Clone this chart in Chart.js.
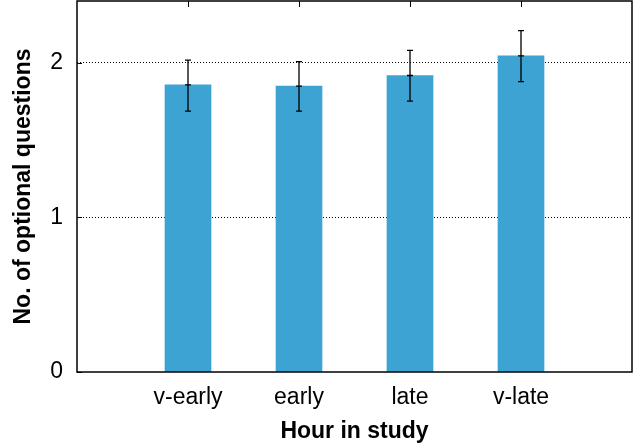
<!DOCTYPE html>
<html>
<head>
<meta charset="utf-8">
<script src="https://cdn.jsdelivr.net/npm/chart.js@4/dist/chart.umd.min.js"></script>
<style>
  html, body { margin: 0; padding: 0; background: #fff; }
  #wrap { width: 637px; height: 445px; }
</style>
</head>
<body>
<div id="wrap"><canvas id="myChart" width="637" height="445"></canvas></div>
<script>
// categories, with empty slots at both ends like the original axis range
var categories = ["", "v-early", "early", "late", "v-late", ""];
var means = [null, 1.857, 1.849, 1.918, 2.045, null];
var errLow = [null, 1.687, 1.687, 1.752, 1.879, null];
var errHigh = [null, 2.017, 2.008, 2.080, 2.209, null];
var yTicks = [0, 1, 2];

var font = "'Liberation Sans', Arial, Helvetica, sans-serif";

// border box, mirrored ticks and error bars
var extrasPlugin = {
    id: 'extras',
    afterDatasetsDraw: function (chart) {
        var ctx = chart.ctx;
        var a = chart.chartArea;
        var x = chart.scales.x, y = chart.scales.y;
        ctx.save();
        ctx.strokeStyle = '#000';
        ctx.lineWidth = 1;
        // top ticks at category positions
        for (var i = 0; i < categories.length; i++) {
            if (!categories[i]) continue;
            var px = Math.round(x.getPixelForValue(i)) + 0.5;
            ctx.beginPath();
            ctx.moveTo(px, a.top);
            ctx.lineTo(px, a.top + 6);
            ctx.stroke();
        }
        // left ticks at y values
        yTicks.forEach(function (v) {
            var py = Math.round(y.getPixelForValue(v)) + 0.5;
            ctx.beginPath();
            ctx.moveTo(a.left, py);
            ctx.lineTo(a.left + 5, py);
            ctx.stroke();
        });
        // error bars
        ctx.lineWidth = 1.3;
        for (var j = 0; j < means.length; j++) {
            if (means[j] === null) continue;
            var cx = x.getPixelForValue(j);
            var yl = y.getPixelForValue(errLow[j]);
            var yh = y.getPixelForValue(errHigh[j]);
            var ym = y.getPixelForValue(means[j]);
            ctx.beginPath();
            ctx.moveTo(cx, yl); ctx.lineTo(cx, yh);
            ctx.moveTo(cx - 3, yl); ctx.lineTo(cx + 3, yl);
            ctx.moveTo(cx - 3, yh); ctx.lineTo(cx + 3, yh);
            ctx.moveTo(cx - 3, ym); ctx.lineTo(cx + 3, ym);
            ctx.stroke();
        }
        // frame
        ctx.lineWidth = 1.5;
        ctx.strokeRect(a.left, a.top, a.right - a.left, a.bottom - a.top);
        ctx.restore();
    }
};

var config = {
    type: 'bar',
    data: {
        labels: categories,
        datasets: [{
            data: means,
            backgroundColor: '#3ca3d3',
            borderWidth: 0,
            barThickness: 46
        }]
    },
    options: {
        responsive: false,
        animation: false,
        layout: { padding: { top: 1, right: 5, left: 0, bottom: 0 } },
        plugins: { legend: { display: false }, tooltip: { enabled: false } },
        scales: {
            x: {
                offset: false,
                grid: { display: false, drawTicks: false },
                border: { display: false },
                ticks: { color: '#000', font: { family: font, size: 23 }, padding: 12, maxRotation: 0, autoSkip: false },
                title: { display: true, text: 'Hour in study', color: '#000',
                         font: { family: font, size: 23, weight: 'bold' }, padding: { top: 0, bottom: 0 } },
                afterFit: function (s) { s.height = 73; s.paddingLeft = 0; s.paddingRight = 0; }
            },
            y: {
                min: 0,
                max: 2.4,
                afterBuildTicks: function (s) { s.ticks = yTicks.map(function (v) { return { value: v }; }); },
                grid: {
                    drawTicks: false,
                    color: function (c) { return c.tick && c.tick.value === 0 ? 'rgba(0,0,0,0)' : '#000'; },
                    lineWidth: 1
                },
                border: { display: false, dash: [1, 2] },
                ticks: { color: '#000', font: { family: font, size: 23 }, padding: 14 },
                title: { display: true, text: 'No. of optional questions', color: '#000',
                         font: { family: font, size: 23, weight: 'bold' }, padding: { top: 10, bottom: 0 } },
                afterFit: function (s) { s.width = 77; s.paddingTop = 0; s.paddingBottom = 0; }
            }
        }
    },
    plugins: [extrasPlugin]
};

window.myChart = new Chart(document.getElementById('myChart').getContext('2d'), config);
</script>
</body>
</html>
